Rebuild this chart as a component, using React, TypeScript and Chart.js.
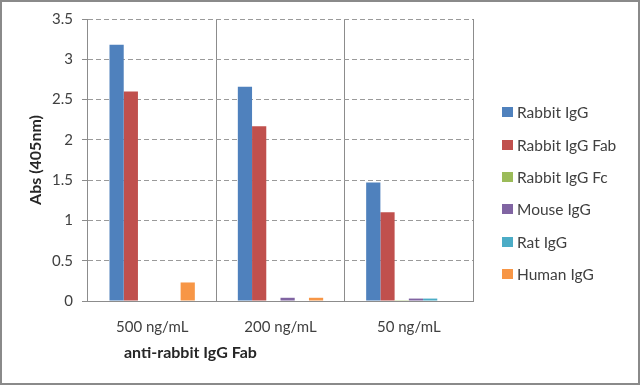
import React, { useEffect, useRef } from "react";
import { Chart, registerables } from "chart.js";

Chart.register(...registerables);

const categories = ["500 ng/mL", "200 ng/mL", "50 ng/mL"];
const seriesNames = ["Rabbit IgG", "Rabbit IgG Fab", "Rabbit IgG Fc", "Mouse IgG", "Rat IgG", "Human IgG"];
const seriesColors = ["#4F81BD", "#C0504D", "#9BBB59", "#8064A2", "#4BACC6", "#F79646"];
const rabbitIgG = [3.18, 2.66, 1.47];
const rabbitIgGFab = [2.6, 2.17, 1.1];
const rabbitIgGFc = [0, 0, 0.01];
const mouseIgG = [0, 0.04, 0.03];
const ratIgG = [0, 0, 0.03];
const humanIgG = [0.23, 0.04, 0];
const seriesValues = [rabbitIgG, rabbitIgGFab, rabbitIgGFc, mouseIgG, ratIgG, humanIgG];
const yTitle = "Abs (405nm)";
const xTitle = "anti-rabbit IgG Fab";

const FONT = "Lato, 'Open Sans', sans-serif";
const TEXT = "#404040";

export default function App() {
  const ref = useRef<HTMLCanvasElement | null>(null);

  useEffect(() => {
    document.body.style.margin = "0";
    const canvas = ref.current;
    if (!canvas) return;
    const xTitlePlugin = {
      id: "xTitlePlugin",
      afterDraw(chart: any) {
        const ctx = chart.ctx;
        const xs = chart.scales.x;
        ctx.save();
        ctx.font = `bold 16px ${FONT}`;
        ctx.fillStyle = "#262626";
        ctx.textAlign = "left";
        ctx.textBaseline = "middle";
        ctx.fillText(xTitle, xs.left + 36, xs.bottom - 32);
        ctx.restore();
      },
    };
    const chart = new Chart(canvas, {
      type: "bar",
      data: {
        labels: categories,
        datasets: seriesNames.map((name, i) => ({
          label: name,
          data: seriesValues[i],
          backgroundColor: seriesColors[i],
          borderWidth: 0,
          categoryPercentage: 0.665,
          barPercentage: 1,
        })),
      },
      options: {
        responsive: false,
        animation: false,
        layout: { padding: { top: 19, right: 167, bottom: 0, left: 0 } },
        plugins: {
          legend: { display: false },
          tooltip: { enabled: false },
        },
        scales: {
          x: {
            offset: true,
            grid: {
              offset: true,
              color: "#8c8c8c",
              lineWidth: 1,
              drawTicks: false,
            },
            border: { display: true, color: "#8c8c8c" },
            ticks: {
              color: TEXT,
              font: { family: FONT, size: 15 },
              padding: 17,
            },
            afterFit(scale: any) {
              scale.height = 84;
            },
          },
          y: {
            min: 0,
            max: 3.5,
            ticks: {
              stepSize: 0.5,
              color: TEXT,
              font: { family: FONT, size: 15 },
              padding: 9,
              callback: (v: any) => String(Number(v)),
            },
            grid: {
              color: (c: any) => (c.tick && c.tick.value === 0 ? "rgba(0,0,0,0)" : "#9a9a9a"),
              drawTicks: true,
              tickLength: 6,
              tickColor: "#8c8c8c",
              tickBorderDash: [],
            },
            border: { display: false, dash: [5, 3] },
            title: {
              display: true,
              text: yTitle,
              color: "#262626",
              font: { family: FONT, size: 16, weight: "bold" },
              padding: { top: 26, bottom: 0 },
            },
            afterFit(scale: any) {
              scale.width = 88;
            },
          },
        },
      },
      plugins: [xTitlePlugin],
    } as any);
    return () => chart.destroy();
  }, []);

  return (
    <div style={{ position: "relative", width: 640, height: 385, background: "#fff" }}>
      <canvas ref={ref} width={640} height={385} style={{ position: "absolute", left: 0, top: 0 }} />
      <div
        style={{
          position: "absolute",
          left: 502,
          top: 96,
          fontFamily: FONT,
          fontSize: 15.5,
          color: TEXT,
        }}
      >
        {seriesNames.map((name, i) => (
          <div key={name} style={{ display: "flex", alignItems: "center", height: 32.4, whiteSpace: "nowrap" }}>
            <span style={{ display: "inline-block", width: 11, height: 10, background: seriesColors[i], marginRight: 4 }} />
            <span>{name}</span>
          </div>
        ))}
      </div>
      <div
        style={{
          position: "absolute",
          left: 0,
          top: 0,
          width: 640,
          height: 385,
          boxSizing: "border-box",
          border: "2px solid #8a8a8a",
          pointerEvents: "none",
        }}
      />
    </div>
  );
}
